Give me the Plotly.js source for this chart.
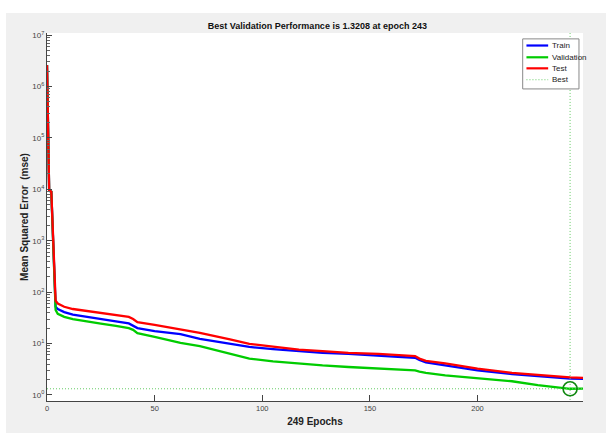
<!DOCTYPE html>
<html>
<head>
<meta charset="utf-8">
<script src="https://cdn.plot.ly/plotly-3.0.1.min.js"></script>
<style>
html,body{margin:0;padding:0;background:#ffffff;width:606px;height:433px;overflow:hidden;}
#chart{position:absolute;left:6px;top:13px;width:600px;height:420px;}
</style>
</head>
<body>
<div id="chart"></div>
<script>
// ---- data ----
const epochs     = [0, 1, 2, 3, 4, 5, 8, 12, 18, 25, 32, 38, 40, 42, 50, 62, 71, 85, 94, 105, 117, 128, 140, 154, 163, 171, 173, 176, 185, 200, 216, 228, 236, 243, 249];
const trainMSE   = [2.6e6, 9.5e3, 9.0e3, 800, 52, 47, 41, 36.5, 33, 30, 27, 24.6, 22.5, 20, 17.5, 15.2, 12.3, 9.8, 8.6, 7.8, 7.1, 6.6, 6.3, 5.7, 5.5, 5.3, 4.8, 4.3, 3.8, 3.0, 2.55, 2.3, 2.15, 2.08, 2.05];
const valMSE     = [2.6e6, 9.5e3, 9.0e3, 800, 45, 38, 33, 30, 27, 24.5, 22, 20, 18.5, 16, 13.5, 10.3, 8.9, 6.3, 5.1, 4.5, 4.05, 3.75, 3.5, 3.3, 3.2, 3.0, 2.85, 2.7, 2.4, 2.1, 1.85, 1.55, 1.4, 1.3208, 1.33];
const testMSE    = [2.6e6, 9.5e3, 9.0e3, 800, 68, 60, 52, 47, 43, 39, 36, 33, 30, 26, 23, 18.8, 16.2, 12, 9.9, 8.7, 7.6, 7.1, 6.6, 6.3, 5.9, 5.7, 5.1, 4.6, 4.1, 3.25, 2.7, 2.45, 2.3, 2.2, 2.15];
const bestEpoch  = 243;
const bestPerf   = 1.3208;
const nEpochs    = 249;
const seriesNames = ["Train", "Validation", "Test", "Best"];
const xTickVals  = [0, 50, 100, 150, 200];
const yTickExps  = [0, 1, 2, 3, 4, 5, 6, 7];

const yTickVals = yTickExps.map(e => Math.pow(10, e));
const yTickText = yTickExps.map(e => "10<sup>" + e + "</sup>");
const yMinorVals = [];
yTickExps.slice(0, -1).forEach(e => { for (let m = 2; m <= 9; m++) yMinorVals.push(m * Math.pow(10, e)); });

const BLUE = "#0000ff", GREEN = "#00cc00", RED = "#ff0000", BESTC = "#66cc66";
const FONT = "'Liberation Sans Narrow', 'Liberation Sans', Arial, sans-serif";
const DOTS = "1px,2px";

const traces = [
  {x: epochs, y: trainMSE, mode: "lines", line: {color: BLUE, width: 2.3}, name: seriesNames[0]},
  {x: epochs, y: valMSE,   mode: "lines", line: {color: GREEN, width: 2.3}, name: seriesNames[1]},
  {x: epochs, y: testMSE,  mode: "lines", line: {color: RED, width: 2.3}, name: seriesNames[2]},
  {x: [0, nEpochs], y: [bestPerf, bestPerf], mode: "lines", line: {color: BESTC, width: 1, dash: DOTS}, name: seriesNames[3]},
  {x: [bestEpoch, bestEpoch], y: [0.7, 1.2e7], mode: "lines", line: {color: BESTC, width: 1, dash: DOTS}, showlegend: false},
  {x: [bestEpoch], y: [bestPerf], mode: "markers", marker: {symbol: "circle-open", size: 14, color: "#118811", line: {width: 1.6}}, showlegend: false}
];

// compact MATLAB-style legend
const shapes = [
  {type: "rect", xref: "paper", yref: "paper", x0: 0.8875, x1: 0.9925, y0: 0.848, y1: 0.984,
   line: {color: "#888888", width: 1}, fillcolor: "#ffffff", layer: "above"}
];
const legColors = [BLUE, GREEN, RED, BESTC];
const legRows = [0.966, 0.934, 0.904, 0.873];
const annotations = [];
for (let i = 0; i < 4; i++) {
  shapes.push({type: "line", xref: "paper", yref: "paper", x0: 0.8945, x1: 0.935, y0: legRows[i], y1: legRows[i],
    line: {color: legColors[i], width: i < 3 ? 2.2 : 1, dash: i < 3 ? "solid" : DOTS}, layer: "above"});
  annotations.push({xref: "paper", yref: "paper", x: 0.938, y: legRows[i], xanchor: "left", yanchor: "middle",
    text: seriesNames[i], showarrow: false, font: {family: FONT, size: 8, color: "#222"}});
}

const layout = {
  width: 600, height: 420,
  paper_bgcolor: "#f0f0f0", plot_bgcolor: "#ffffff",
  margin: {l: 41, r: 23, t: 20, b: 32},
  showlegend: false,
  title: {text: "<b>Best Validation Performance is " + bestPerf + " at epoch " + bestEpoch + "</b>",
          font: {family: FONT, size: 9, color: "#111"}, x: 0.519, xanchor: "center", y: 0.969, yanchor: "middle"},
  xaxis: {
    type: "linear", range: [0, nEpochs], tickvals: xTickVals, ticktext: xTickVals.map(String),
    ticks: "inside", ticklen: 6, tickcolor: "#444", tickwidth: 1,
    showline: true, linecolor: "#444", linewidth: 1, showgrid: false, zeroline: false,
    tickfont: {family: FONT, size: 7.5, color: "#444"},
    title: {text: "<b>" + nEpochs + " Epochs</b>", font: {family: FONT, size: 10, color: "#222"}, standoff: 5}
  },
  yaxis: {
    type: "log", range: [-0.117, 7.04], tickmode: "array", tickvals: yTickVals, ticktext: yTickText,
    ticks: "inside", ticklen: 5, tickcolor: "#444", tickwidth: 1,
    minor: {tickmode: "array", tickvals: yMinorVals, ticks: "inside", ticklen: 3, tickcolor: "#666", showgrid: false},
    showline: true, linecolor: "#444", linewidth: 1, showgrid: false, zeroline: false,
    tickfont: {family: FONT, size: 8, color: "#444"},
    title: {text: "<b>Mean Squared Error  (mse)</b>", font: {family: FONT, size: 10, color: "#222"}, standoff: 1}
  },
  shapes: shapes,
  annotations: annotations
};

Plotly.newPlot("chart", traces, layout, {displayModeBar: false, staticPlot: true});
</script>
</body>
</html>
